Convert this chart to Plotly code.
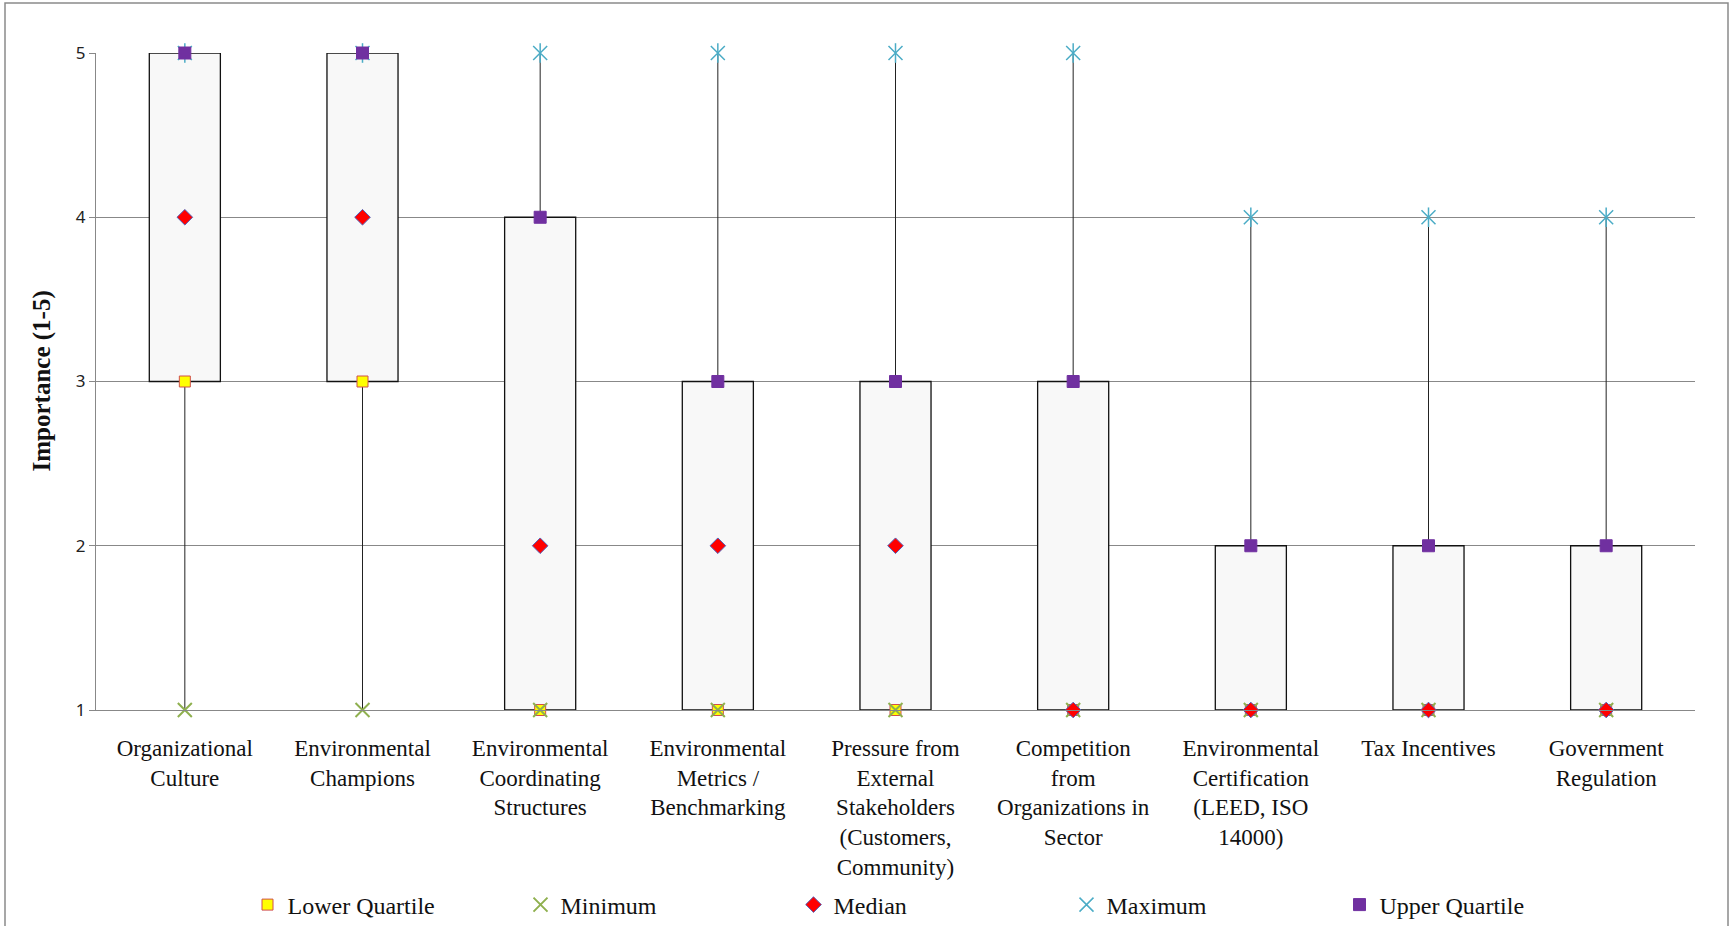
import plotly.graph_objects as go

# Survey results: importance (1-5) of drivers of environmental practice
categories = [
    "Organizational<br>Culture",
    "Environmental<br>Champions",
    "Environmental<br>Coordinating<br>Structures",
    "Environmental<br>Metrics /<br>Benchmarking",
    "Pressure from<br>External<br>Stakeholders<br>(Customers,<br>Community)",
    "Competition<br>from<br>Organizations in<br>Sector",
    "Environmental<br>Certification<br>(LEED, ISO<br>14000)",
    "Tax Incentives",
    "Government<br>Regulation",
]
minimum = [1, 1, 1, 1, 1, 1, 1, 1, 1]
lower_quartile = [3, 3, 1, 1, 1, 1, 1, 1, 1]
median = [4, 4, 2, 2, 2, 1, 1, 1, 1]
upper_quartile = [5, 5, 4, 3, 3, 3, 2, 2, 2]
maximum = [5, 5, 5, 5, 5, 5, 4, 4, 4]
y_ticks = [1, 2, 3, 4, 5]

SERIF = "Liberation Serif"
GRID = "#888888"
MIN_C = "#8FB04F"
MAX_C = "#4BACC6"

fig = go.Figure()

# boxes spanning the interquartile range
fig.add_trace(go.Bar(
    x=categories,
    base=lower_quartile,
    y=[u - l for u, l in zip(upper_quartile, lower_quartile)],
    width=0.4,
    marker=dict(color="#F8F8F8", line=dict(color="#111111", width=1.3)),
    showlegend=False,
    hoverinfo="skip",
))

# whiskers: minimum -> lower quartile and upper quartile -> maximum
wx, wy = [], []
for c, mn, lq, uq, mx in zip(categories, minimum, lower_quartile, upper_quartile, maximum):
    wx += [c, c, None, c, c, None]
    wy += [mn, lq, None, uq, mx, None]
fig.add_trace(go.Scatter(
    x=wx, y=wy, mode="lines",
    line=dict(color="#222222", width=1),
    showlegend=False, hoverinfo="skip", cliponaxis=False,
))

fig.add_trace(go.Scatter(
    x=categories, y=lower_quartile, mode="markers", name="Lower Quartile",
    marker=dict(symbol="square", size=11, color="#FFFF00",
                line=dict(color="#D0504D", width=1)),
    cliponaxis=False,
))
fig.add_trace(go.Scatter(
    x=categories, y=minimum, mode="markers", name="Minimum",
    marker=dict(symbol="x-thin-open", size=14, color=MIN_C,
                line=dict(color=MIN_C, width=2)),
    cliponaxis=False,
))
fig.add_trace(go.Scatter(
    x=categories, y=median, mode="markers", name="Median",
    marker=dict(symbol="diamond", size=12, color="#FF0000",
                line=dict(color="#5060B8", width=1)),
    cliponaxis=False,
))
fig.add_trace(go.Scatter(
    x=categories, y=maximum, mode="markers", name="Maximum",
    legendgroup="max",
    marker=dict(symbol="x-thin-open", size=14, color=MAX_C,
                line=dict(color=MAX_C, width=1.5)),
    cliponaxis=False,
))
fig.add_trace(go.Scatter(
    x=categories, y=maximum, mode="markers", name="Maximum",
    legendgroup="max", showlegend=False,
    marker=dict(symbol="line-ns-open", size=14, color=MAX_C,
                line=dict(color=MAX_C, width=1.5)),
    cliponaxis=False,
))
fig.add_trace(go.Scatter(
    x=categories, y=upper_quartile, mode="markers", name="Upper Quartile",
    marker=dict(symbol="square", size=12, color="#7030A0",
                line=dict(color="#7030A0", width=1)),
    cliponaxis=False,
))

W, H = 1730, 926
L, R, T, B = 96, 35, 53, 216
pw, ph = W - L - R, H - T - B


def px_x(p):
    return (p - L) / pw


def px_y(p):
    return (H - B - p) / ph


fig.update_layout(
    width=W, height=H,
    margin=dict(l=L, r=R, t=T, b=B, autoexpand=False),
    paper_bgcolor="white", plot_bgcolor="white",
    barmode="overlay",
    showlegend=True,
    legend=dict(
        orientation="h", x=px_x(930), xanchor="center",
        y=px_y(905), yanchor="middle",
        entrywidth=228, entrywidthmode="pixels",
        font=dict(family=SERIF, size=24, color="#111111"),
        itemclick=False, traceorder="normal",
        bgcolor="rgba(0,0,0,0)",
    ),
    xaxis=dict(
        type="category",
        showline=True, linecolor=GRID, linewidth=1,
        ticks="", showgrid=False,
        tickfont=dict(family=SERIF, size=23, color="#111111"),
        ticklabelstandoff=17,
        fixedrange=True,
    ),
    yaxis=dict(
        range=[1, 5], tickvals=y_ticks,
        showgrid=True, gridcolor=GRID, gridwidth=1,
        showline=True, linecolor=GRID, linewidth=1,
        ticks="outside", ticklen=6, tickcolor=GRID,
        tickfont=dict(family="Noto Sans", size=17, color="#222222"),
        zeroline=False, fixedrange=True,
    ),
    annotations=[dict(
        text="<b>Importance (1-5)</b>",
        xref="paper", yref="paper",
        x=px_x(41), y=0.5, xanchor="center", yanchor="middle",
        textangle=-90, showarrow=False,
        font=dict(family=SERIF, size=25, color="#111111"),
    )],
    shapes=[dict(
        type="rect", xref="paper", yref="paper",
        x0=px_x(5), x1=px_x(1728), y0=px_y(960), y1=px_y(3),
        line=dict(color="#8A8A8A", width=1.5),
        fillcolor="rgba(0,0,0,0)", layer="below",
    )],
)

fig.write_html("out.html")
